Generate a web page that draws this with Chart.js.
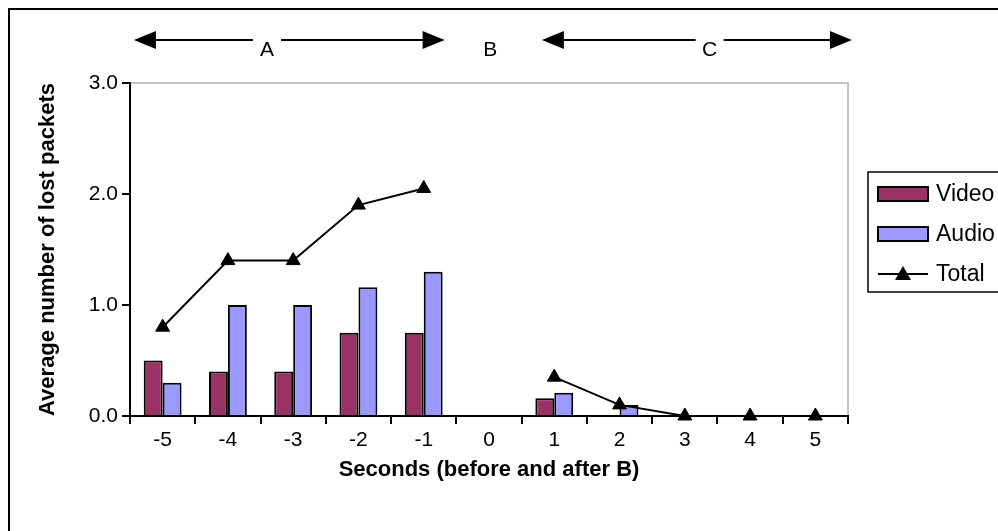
<!DOCTYPE html>
<html>
<head>
<meta charset="utf-8">
<script src="https://cdn.jsdelivr.net/npm/chart.js@4/dist/chart.umd.min.js"></script>
<style>
html, body { margin: 0; padding: 0; background: #fff; overflow: hidden; }
#wrap { width: 998px; height: 531px; }
</style>
</head>
<body>
<div id="wrap"><canvas id="loss-chart" width="998" height="531"></canvas></div>
<script>
// Lost packets before and after event B

const seconds = ["-5", "-4", "-3", "-2", "-1", "0", "1", "2", "3", "4", "5"];
const videoLoss = [0.5, 0.4, 0.4, 0.75, 0.75, null, 0.16, 0, 0, 0, 0];
const audioLoss = [0.3, 1.0, 1.0, 1.16, 1.3, null, 0.21, 0.1, 0, 0, 0];
const totalLoss = [0.8, 1.4, 1.4, 1.9, 2.05, null, 0.35, 0.1, 0, 0, 0];
const yTicks = [0, 1, 2, 3];

// phase marks above the plot (A / B / C), in category index units
const phaseMarks = [
    { label: "A", from: -0.44, to: 4.32, at: 1.6 },
    { label: "B", at: 5.02 },
    { label: "C", from: 5.81, to: 10.56, at: 8.38 },
];

const FONT = "'Liberation Sans', Arial, sans-serif";
Chart.defaults.font.family = FONT;
Chart.defaults.color = "#000";

function drawHead(ctx, x, y, dir) {
    ctx.beginPath();
    ctx.moveTo(x, y);
    ctx.lineTo(x - dir * 22, y - 9);
    ctx.lineTo(x - dir * 22, y + 9);
    ctx.closePath();
    ctx.fill();
}

const decor = {
    id: "decor",
    beforeDraw(chart) {
        const ctx = chart.ctx;
        ctx.save();
        ctx.fillStyle = "#fff";
        ctx.fillRect(0, 0, chart.width, chart.height);
        // outer chart frame (runs off the right and bottom)
        ctx.strokeStyle = "#000";
        ctx.lineWidth = 2;
        ctx.strokeRect(9, 9, 1100, 1100);
        // plot area border, top and right
        const a = chart.chartArea;
        ctx.strokeStyle = "#c4c4c4";
        ctx.beginPath();
        ctx.moveTo(a.left, a.top);
        ctx.lineTo(a.right, a.top);
        ctx.lineTo(a.right, a.bottom);
        ctx.stroke();
        ctx.restore();
    },
    afterDraw(chart) {
        const ctx = chart.ctx;
        const x = chart.scales.x;
        ctx.save();
        ctx.fillStyle = "#000";
        ctx.strokeStyle = "#000";
        ctx.lineWidth = 2;
        ctx.font = "21px " + FONT;
        ctx.textAlign = "center";
        ctx.textBaseline = "middle";
        const lineY = 40;
        phaseMarks.forEach((m) => {
            const tx = x.getPixelForValue(m.at);
            if (m.from !== undefined) {
                const x0 = x.getPixelForValue(m.from);
                const x1 = x.getPixelForValue(m.to);
                ctx.beginPath();
                ctx.moveTo(x0 + 10, lineY);
                ctx.lineTo(x1 - 10, lineY);
                ctx.stroke();
                drawHead(ctx, x0, lineY, -1);
                drawHead(ctx, x1, lineY, 1);
                ctx.fillStyle = "#fff";
                ctx.fillRect(tx - 14, lineY - 4, 28, 8);
                ctx.fillStyle = "#000";
            }
            ctx.fillText(m.label, tx, lineY + 10);
        });

        // legend box
        ctx.lineWidth = 1.5;
        ctx.strokeRect(868, 172, 200, 120);
        ctx.textAlign = "left";
        ctx.font = "23px " + FONT;
        const rows = [194, 234, 274];
        chart.data.datasets.forEach((ds, i) => {
            const ry = rows[i === 0 ? 2 : i - 1];
            if (ds.type === "line") {
                ctx.lineWidth = 2;
                ctx.beginPath();
                ctx.moveTo(878, ry);
                ctx.lineTo(928, ry);
                ctx.stroke();
                ctx.beginPath();
                ctx.moveTo(903, ry - 8);
                ctx.lineTo(911, ry + 6);
                ctx.lineTo(895, ry + 6);
                ctx.closePath();
                ctx.fill();
            } else {
                ctx.fillStyle = ds.backgroundColor;
                ctx.fillRect(878, ry - 7, 50, 14);
                ctx.lineWidth = 2;
                ctx.strokeRect(878, ry - 7, 50, 14);
                ctx.fillStyle = "#000";
            }
            ctx.fillText(ds.label, 936, ry + 1);
        });
        ctx.restore();
    },
};

new Chart(document.getElementById("loss-chart"), {
    type: "bar",
    data: {
        labels: seconds,
        datasets: [
            {
                type: "line",
                label: "Total",
                data: totalLoss,
                borderColor: "#000",
                backgroundColor: "#000",
                borderWidth: 2,
                pointStyle: "triangle",
                pointRadius: 8,
                pointBackgroundColor: "#000",
                pointBorderColor: "#000",
                pointBorderWidth: 1,
                spanGaps: false,
                clip: false,
                order: 0,
            },
            {
                label: "Video",
                data: videoLoss,
                backgroundColor: "#993366",
                borderColor: "#000",
                borderWidth: 2,
                order: 1,
            },
            {
                label: "Audio",
                data: audioLoss,
                backgroundColor: "#9999ff",
                borderColor: "#000",
                borderWidth: 2,
                order: 1,
            },
        ],
    },
    options: {
        responsive: false,
        animation: false,
        devicePixelRatio: 1,
        categoryPercentage: 0.58,
        barPercentage: 1,
        layout: { padding: { left: 35, top: 83, right: 150, bottom: 0 } },
        plugins: { legend: { display: false }, tooltip: { enabled: false } },
        scales: {
            x: {
                offset: true,
                grid: { offset: true, drawOnChartArea: false, color: "#000", lineWidth: 2, tickLength: 8 },
                border: { color: "#000", width: 2 },
                ticks: { font: { size: 21 }, color: "#000", padding: 4, maxRotation: 0, autoSkip: false },
                title: {
                    display: true,
                    text: "Seconds (before and after B)",
                    font: { size: 22, weight: "bold" },
                    color: "#000",
                    padding: { top: 0, bottom: 48 },
                },
                afterFit: (s) => { s.height = 115; },
            },
            y: {
                min: 0,
                max: 3,
                afterBuildTicks: (s) => { s.ticks = yTicks.map((v) => ({ value: v })); },
                ticks: { callback: (v) => Number(v).toFixed(1), font: { size: 21 }, color: "#000", padding: 4 },
                grid: { drawOnChartArea: false, color: "#000", lineWidth: 2, tickLength: 8 },
                border: { color: "#000", width: 2 },
                title: {
                    display: true,
                    text: "Average number of lost packets",
                    font: { size: 22, weight: "bold" },
                    color: "#000",
                    padding: 0,
                },
                afterFit: (s) => { s.width = 95; },
            },
        },
    },
    plugins: [decor],
});
</script>
</body>
</html>
